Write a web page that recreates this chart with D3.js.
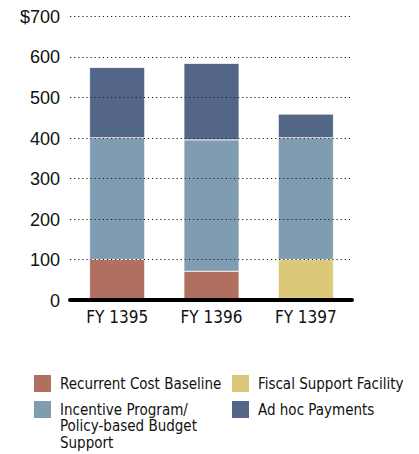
<!DOCTYPE html>
<html>
<head>
<meta charset="utf-8">
<script src="https://cdn.jsdelivr.net/npm/d3@7"></script>
<style>
  html, body { margin: 0; padding: 0; background: #fff; }
  svg { display: block; font-family: "Liberation Sans", Arial, sans-serif; }
</style>
</head>
<body>
<svg id="chart" width="419" height="454"></svg>
<script>
// Fiscal years on the x axis
const years = ["FY 1395", "FY 1396", "FY 1397"];

// Stacked components (US$ millions), bottom to top
const recurrentCost = [100, 71, 0];
const fiscalSupport = [0, 0, 100];
const incentiveProgram = [300, 324, 300];
const adHocPayments = [173, 188, 58];

const yTicks = [0, 100, 200, 300, 400, 500, 600, 700];

const seriesKeys = ["recurrent", "fiscal", "incentive", "adhoc"];
const seriesColors = {
  recurrent: "#b06f5f",
  fiscal: "#dbc878",
  incentive: "#809cb1",
  adhoc: "#536688"
};

const condensedFont = "'DejaVu Sans Condensed', 'DejaVu Sans', sans-serif";

const rows = years.map((y, i) => ({
  year: y,
  recurrent: recurrentCost[i],
  fiscal: fiscalSupport[i],
  incentive: incentiveProgram[i],
  adhoc: adHocPayments[i]
}));

const svg = d3.select("#chart");

const x = d3.scaleBand()
  .domain(years)
  .range([70, 353])
  .paddingInner(0.417)
  .paddingOuter(0.2085);

const y = d3.scaleLinear().domain([0, 700]).range([300, 16]);

const stacked = d3.stack().keys(seriesKeys)(rows);

// Bars
svg.append("g")
  .selectAll("g")
  .data(stacked)
  .join("g")
  .attr("fill", d => seriesColors[d.key])
  .selectAll("rect")
  .data(d => d.filter(s => s[1] - s[0] > 0))
  .join("rect")
  .attr("x", d => x(d.data.year))
  .attr("width", x.bandwidth())
  .attr("y", d => y(d[1]))
  .attr("height", d => y(d[0]) - y(d[1]))
  .attr("stroke", "#ffffff")
  .attr("stroke-opacity", 0.75)
  .attr("stroke-width", 1);

// Dotted gridlines, drawn over the bars
svg.append("g")
  .selectAll("line")
  .data(yTicks.filter(t => t > 0))
  .join("line")
  .attr("x1", 70)
  .attr("x2", 353)
  .attr("y1", d => Math.round(y(d)) + 0.5)
  .attr("y2", d => Math.round(y(d)) + 0.5)
  .attr("stroke", "#222")
  .attr("stroke-width", 1.1)
  .attr("stroke-dasharray", "1.2,2.9");

// Baseline
svg.append("line")
  .attr("x1", 70).attr("x2", 352)
  .attr("y1", y(0)).attr("y2", y(0))
  .attr("stroke", "#000")
  .attr("stroke-width", 4)
  .attr("stroke-linecap", "round");

// Y axis labels
const yAxis = d3.axisLeft(y)
  .tickValues(yTicks)
  .tickSize(0)
  .tickPadding(0)
  .tickFormat(d => d === 700 ? "$700" : d3.format("d")(d));

const yg = svg.append("g").attr("transform", "translate(60,0)").call(yAxis);
yg.select(".domain").remove();
yg.selectAll("text")
  .attr("font-family", "Liberation Sans, Arial, sans-serif")
  .attr("font-size", 18)
  .attr("fill", "#111")
  .attr("dy", "0.35em");

// X axis labels
const xAxis = d3.axisBottom(x).tickSize(0).tickPadding(0);
const xg = svg.append("g").attr("transform", "translate(0,311)").call(xAxis);
xg.select(".domain").remove();
xg.selectAll("text")
  .attr("font-family", condensedFont)
  .attr("font-size", 17)
  .attr("fill", "#111")
  .attr("dy", "0.73em");

// Legend
const legendItems = [
  { key: "recurrent", lines: ["Recurrent Cost Baseline"], x: 34, y: 375 },
  { key: "incentive", lines: ["Incentive Program/", "Policy-based Budget", "Support"], x: 34, y: 401 },
  { key: "fiscal", lines: ["Fiscal Support Facility"], x: 232, y: 375 },
  { key: "adhoc", lines: ["Ad hoc Payments"], x: 232, y: 401 }
];

const lg = svg.append("g")
  .selectAll("g")
  .data(legendItems)
  .join("g")
  .attr("transform", d => `translate(${d.x},${d.y})`);

lg.append("rect")
  .attr("width", 17)
  .attr("height", 17)
  .attr("fill", d => seriesColors[d.key]);

lg.append("text")
  .attr("x", 26)
  .attr("y", 13.5)
  .attr("font-family", condensedFont)
  .attr("font-size", 15)
  .attr("fill", "#111")
  .selectAll("tspan")
  .data(d => d.lines)
  .join("tspan")
  .attr("x", 26)
  .attr("dy", (d, i) => i === 0 ? 0 : 16.5)
  .text(d => d);
</script>
</body>
</html>
